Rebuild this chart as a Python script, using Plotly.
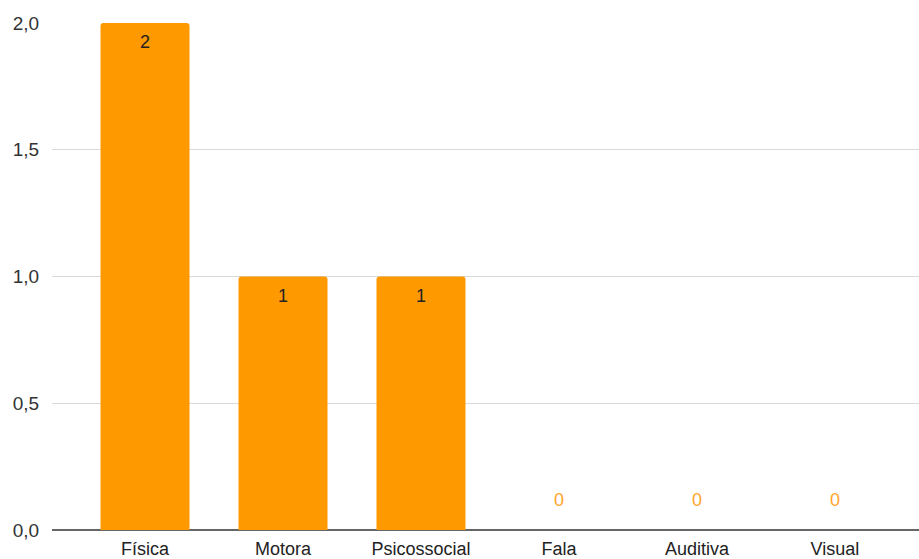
import plotly.graph_objects as go

categories = ["Física", "Motora", "Psicossocial", "Fala", "Auditiva", "Visual"]
values = [2, 1, 1, 0, 0, 0]
y_ticks = [0, 0.5, 1.0, 1.5, 2.0]

BAR = "#FF9900"
FONT = "Liberation Sans, Arial, sans-serif"

fig = go.Figure()
fig.add_trace(go.Bar(
    x=list(range(len(categories))), y=values,
    marker=dict(color=BAR, line=dict(width=0)),
    width=0.645,
    hoverinfo="skip",
))

annotations = []
for i, v in enumerate(values):
    if v > 0:
        annotations.append(dict(x=i, y=v, text=str(v), showarrow=False,
                                yanchor="middle", yshift=-19,
                                font=dict(family=FONT, size=18, color="#222222")))
    else:
        annotations.append(dict(x=i, y=v, text=str(v), showarrow=False,
                                yanchor="middle", yshift=30,
                                font=dict(family=FONT, size=18, color="#FFA52A")))

fig.update_layout(
    width=919, height=559,
    margin=dict(l=52, r=0, t=23, b=29),
    paper_bgcolor="white", plot_bgcolor="white",
    separators=",.",
    showlegend=False,
    barcornerradius=3,
    font=dict(family=FONT, size=18, color="#333333"),
    annotations=annotations,
    xaxis=dict(
        range=[-0.674, 5.609], automargin=False,
        tickmode="array", tickvals=list(range(len(categories))), ticktext=categories,
        showgrid=False, zeroline=False, showline=False,
        ticks="outside", ticklen=2, tickcolor="rgba(0,0,0,0)",
        tickfont=dict(family=FONT, size=18, color="#222222"),
    ),
    yaxis=dict(
        range=[0, 2], automargin=False,
        tickmode="array", tickvals=y_ticks, tickformat=".1f",
        showgrid=True, gridcolor="#D9D9D9", gridwidth=1,
        zeroline=True, zerolinecolor="#666666", zerolinewidth=2,
        showline=False,
        ticks="outside", ticklen=8, tickcolor="rgba(0,0,0,0)",
        tickfont=dict(family=FONT, size=19, color="#333333"),
    ),
)

fig.write_html("out.html", config={"displayModeBar": False},
               post_script="document.body.style.margin='0';document.body.style.overflow='hidden';")
